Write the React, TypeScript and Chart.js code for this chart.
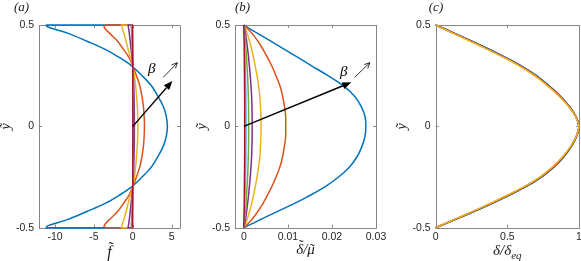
import React, { useEffect, useRef } from "react";
import { Chart, registerables } from "chart.js";
Chart.register(...registerables);

const COLORS = ["#0072BD", "#D95319", "#EDB120", "#7E2F8E", "#77AC30", "#4DBEEE", "#A2142F"];

// ---------- panel (a): f~ vs y~ ----------
const yA = [-0.5, -0.5, -0.49, -0.46, -0.42, -0.38, -0.34, -0.3, -0.25, -0.2, -0.15, -0.1, -0.05, 0, 0.05, 0.1, 0.15, 0.2, 0.25, 0.3, 0.34, 0.38, 0.42, 0.46, 0.49, 0.5, 0.5];
const fA1 = [0, -11.1, -10.9, -8.4, -5.9, -3.55, -1.75, -0.2, 1.2, 2.4, 3.2, 3.9, 4.3, 4.45, 4.3, 3.9, 3.2, 2.4, 1.2, -0.2, -1.75, -3.55, -5.9, -8.4, -10.9, -11.1, 0];
const fA2 = [0, -3.4, -3.7, -3.0, -1.95, -1.2, -0.5, -0.03, 0.47, 0.9, 1.17, 1.36, 1.46, 1.5, 1.46, 1.36, 1.17, 0.9, 0.47, -0.03, -0.5, -1.2, -1.95, -3.0, -3.7, -3.4, 0];
const fA3 = [0, -1.45, -1.38, -1.15, -0.86, -0.6, -0.33, -0.03, 0.2, 0.36, 0.48, 0.57, 0.63, 0.65, 0.63, 0.57, 0.48, 0.36, 0.2, -0.03, -0.33, -0.6, -0.86, -1.15, -1.38, -1.45, 0];
const fA4 = [0, -0.6, -0.56, -0.45, -0.33, -0.22, -0.11, -0.01, 0.07, 0.12, 0.16, 0.19, 0.2, 0.21, 0.2, 0.19, 0.16, 0.12, 0.07, -0.01, -0.11, -0.22, -0.33, -0.45, -0.56, -0.6, 0];
const fA5 = [0, -0.2, -0.19, -0.15, -0.11, -0.075, -0.04, 0, 0.025, 0.04, 0.055, 0.063, 0.068, 0.07, 0.068, 0.063, 0.055, 0.04, 0.025, 0, -0.04, -0.075, -0.11, -0.15, -0.19, -0.2, 0];
const fA6 = [0, -0.07, -0.066, -0.053, -0.038, -0.026, -0.013, 0, 0.008, 0.014, 0.019, 0.022, 0.024, 0.025, 0.024, 0.022, 0.019, 0.014, 0.008, 0, -0.013, -0.026, -0.038, -0.053, -0.066, -0.07, 0];
const fA7 = [0, -0.025, -0.024, -0.019, -0.014, -0.009, -0.005, 0, 0.003, 0.005, 0.007, 0.008, 0.0085, 0.009, 0.0085, 0.008, 0.007, 0.005, 0.003, 0, -0.005, -0.009, -0.014, -0.019, -0.024, -0.025, 0];
const xTicksA = [-10, -5, 0, 5];
const xTickLabelsA = ["-10", "-5", "0", "5"];

// ---------- panel (b): delta~/mu~ vs y~ ----------
const yB = [-0.5, -0.48, -0.45, -0.4, -0.35, -0.3, -0.25, -0.2, -0.15, -0.1, -0.05, 0, 0.05, 0.1, 0.15, 0.2, 0.25, 0.3, 0.35, 0.4, 0.45, 0.48, 0.5];
const dB1 = [0, 0.0019, 0.0047, 0.0096, 0.0142, 0.0183, 0.0215, 0.024, 0.0257, 0.0268, 0.0275, 0.0277, 0.0275, 0.0266, 0.0251, 0.0226, 0.0191, 0.0153, 0.0115, 0.0077, 0.0038, 0.0015, 0];
const dB2 = [0, 0.00095, 0.0022, 0.0038, 0.0051, 0.0063, 0.0073, 0.0082, 0.0088, 0.0092, 0.0095, 0.0095, 0.0095, 0.0092, 0.0088, 0.0082, 0.0073, 0.0063, 0.0051, 0.0038, 0.0022, 0.00095, 0];
const dB3 = [0, 0.0004, 0.0009, 0.00156, 0.0021, 0.00257, 0.003, 0.00335, 0.00363, 0.00378, 0.00388, 0.0039, 0.00388, 0.00378, 0.00363, 0.00335, 0.003, 0.00257, 0.0021, 0.00156, 0.0009, 0.0004, 0];
const dB4 = [0, 0.00019, 0.00044, 0.00076, 0.00103, 0.00125, 0.00146, 0.00163, 0.00177, 0.00184, 0.00189, 0.0019, 0.00189, 0.00184, 0.00177, 0.00163, 0.00146, 0.00125, 0.00103, 0.00076, 0.00044, 0.00019, 0];
const dB5 = [0, 0.00011, 0.00025, 0.00044, 0.00059, 0.00073, 0.00085, 0.00095, 0.00102, 0.00107, 0.00109, 0.0011, 0.00109, 0.00107, 0.00102, 0.00095, 0.00085, 0.00073, 0.00059, 0.00044, 0.00025, 0.00011, 0];
const dB6 = [0, 0.00005, 0.00012, 0.0002, 0.00027, 0.00033, 0.00039, 0.00043, 0.00047, 0.00049, 0.0005, 0.0005, 0.0005, 0.00049, 0.00047, 0.00043, 0.00039, 0.00033, 0.00027, 0.0002, 0.00012, 0.00005, 0];
const dB7 = [0, 0.00002, 0.00005, 0.00008, 0.00011, 0.00013, 0.00015, 0.00017, 0.00019, 0.0002, 0.0002, 0.0002, 0.0002, 0.0002, 0.00019, 0.00017, 0.00015, 0.00013, 0.00011, 0.00008, 0.00005, 0.00002, 0];
const xTicksB = [0, 0.01, 0.02, 0.03];
const xTickLabelsB = ["0", "0.01", "0.02", "0.03"];

// ---------- panel (c): delta/delta_eq vs y~ ----------
const yC = [-0.5, -0.45, -0.4, -0.35, -0.3, -0.25, -0.2, -0.15, -0.1, -0.05, 0, 0.05, 0.1, 0.15, 0.2, 0.25, 0.3, 0.35, 0.4, 0.45, 0.5];
const dC1 = [0, 0.168, 0.332, 0.482, 0.622, 0.737, 0.826, 0.894, 0.946, 0.982, 1.0, 0.977, 0.93, 0.868, 0.791, 0.702, 0.593, 0.458, 0.312, 0.158, 0];
const dC2 = [0, 0.164, 0.326, 0.476, 0.616, 0.731, 0.821, 0.89, 0.943, 0.981, 1.0, 0.976, 0.928, 0.864, 0.786, 0.696, 0.587, 0.452, 0.306, 0.154, 0];
const dC3 = [0, 0.16, 0.32, 0.47, 0.61, 0.725, 0.815, 0.885, 0.94, 0.98, 1.0, 0.975, 0.925, 0.86, 0.78, 0.69, 0.58, 0.445, 0.3, 0.15, 0];
const dC4 = [0, 0.167, 0.331, 0.481, 0.621, 0.736, 0.825, 0.893, 0.945, 0.982, 1.0, 0.977, 0.93, 0.867, 0.79, 0.701, 0.592, 0.457, 0.311, 0.157, 0];
const dC5 = [0, 0.167, 0.331, 0.481, 0.621, 0.736, 0.825, 0.893, 0.945, 0.982, 1.0, 0.977, 0.93, 0.867, 0.79, 0.701, 0.592, 0.457, 0.311, 0.157, 0];
const dC6 = [0, 0.166, 0.33, 0.48, 0.62, 0.735, 0.824, 0.893, 0.945, 0.982, 1.0, 0.977, 0.929, 0.867, 0.789, 0.7, 0.591, 0.456, 0.31, 0.157, 0];
const dC7 = [0, 0.166, 0.33, 0.48, 0.62, 0.735, 0.824, 0.893, 0.945, 0.982, 1.0, 0.977, 0.929, 0.867, 0.789, 0.7, 0.591, 0.456, 0.31, 0.157, 0];
const xTicksC = [0, 0.5, 1];
const xTickLabelsC = ["0", "0.5", "1"];

const yTicks = [-0.5, 0, 0.5];
const yTickLabels = ["-0.5", "0", "0.5"];

// annotation anchors in data units
const arrowA = [0, 0, 5.09, 0.224];
const smallArrowA = [3.93, 0.242, 5.73, 0.314];
const betaA = [2.44, 0.283];
const arrowB = [0, 0, 0.0244, 0.217];
const smallArrowB = [0.02516, 0.242, 0.0286, 0.314];
const betaB = [0.02266, 0.27];

const SERIF = '"Liberation Serif", "DejaVu Serif", serif';
const SANS = '"Liberation Sans", Arial, sans-serif';

type Seg = { t: string; size: number; dy: number; tilde?: boolean; tall?: boolean };

function drawSegs(ctx: CanvasRenderingContext2D, segs: Seg[], cx: number, base: number) {
  let total = 0;
  for (const s of segs) {
    ctx.font = `italic ${s.size}px ${SERIF}`;
    total += ctx.measureText(s.t).width;
  }
  let x = cx - total / 2;
  ctx.textAlign = "left";
  ctx.textBaseline = "alphabetic";
  for (const s of segs) {
    ctx.font = `italic ${s.size}px ${SERIF}`;
    const w = ctx.measureText(s.t).width;
    ctx.fillText(s.t, x, base + s.dy);
    if (s.tilde) {
      ctx.font = `${s.size}px ${SERIF}`;
      const tw = ctx.measureText("˜").width;
      const tx = x + w / 2 - tw / 2 + s.size * 0.1;
      const ty = base + s.dy - (s.tall ? s.size * 0.27 : s.size * 0.03);
      ctx.fillText("˜", tx, ty);
    }
    x += w;
  }
}

function drawArrow(ctx: CanvasRenderingContext2D, x0: number, y0: number, x1: number, y1: number, filled: boolean) {
  const ang = Math.atan2(y1 - y0, x1 - x0);
  ctx.save();
  ctx.strokeStyle = "#000";
  ctx.fillStyle = "#000";
  if (filled) {
    const hl = 9, hw = 3.6;
    const bx = x1 - hl * Math.cos(ang), by = y1 - hl * Math.sin(ang);
    ctx.lineWidth = 1.4;
    ctx.beginPath();
    ctx.moveTo(x0, y0);
    ctx.lineTo(bx, by);
    ctx.stroke();
    ctx.beginPath();
    ctx.moveTo(x1, y1);
    ctx.lineTo(bx + hw * Math.sin(ang), by - hw * Math.cos(ang));
    ctx.lineTo(bx - hw * Math.sin(ang), by + hw * Math.cos(ang));
    ctx.closePath();
    ctx.fill();
  } else {
    ctx.lineWidth = 0.8;
    ctx.beginPath();
    ctx.moveTo(x0, y0);
    ctx.lineTo(x1, y1);
    const hl = 6, a = 0.45;
    ctx.moveTo(x1 - hl * Math.cos(ang - a), y1 - hl * Math.sin(ang - a));
    ctx.lineTo(x1, y1);
    ctx.lineTo(x1 - hl * Math.cos(ang + a), y1 - hl * Math.sin(ang + a));
    ctx.stroke();
  }
  ctx.restore();
}

type PanelCfg = {
  key: string;
  left: number;
  width: number;
  padRight: number;
  yAxisWidth: number;
  xMin: number;
  xMax: number;
  xTicks: number[];
  xTickLabels: string[];
  ys: number[];
  series: number[][];
  orders: number[];
  tension: number;
  label: string;
  labelX: number;
  title: Seg[];
  titleBase: number;
  arrow?: number[];
  smallArrow?: number[];
  beta?: number[];
};

function makePlugin(cfg: PanelCfg) {
  return {
    id: "decor" + cfg.key,
    beforeDatasetsDraw(chart: any) {
      const ctx: CanvasRenderingContext2D = chart.ctx;
      const { left, right, top, bottom } = chart.chartArea;
      const xs = chart.scales.x, ysc = chart.scales.y;
      ctx.save();
      ctx.strokeStyle = "#858585";
      ctx.lineWidth = 1;
      ctx.beginPath();
      ctx.rect(Math.round(left) + 0.5, Math.round(top) + 0.5, Math.round(right) - Math.round(left), Math.round(bottom) - Math.round(top));
      ctx.stroke();
      const tl = 3;
      ctx.beginPath();
      for (const v of cfg.xTicks) {
        const px = Math.round(xs.getPixelForValue(v)) + 0.5;
        ctx.moveTo(px, bottom);
        ctx.lineTo(px, bottom - tl);
        ctx.moveTo(px, top);
        ctx.lineTo(px, top + tl);
      }
      for (const v of yTicks) {
        const py = Math.round(ysc.getPixelForValue(v)) + 0.5;
        ctx.moveTo(left, py);
        ctx.lineTo(left + tl, py);
        ctx.moveTo(right, py);
        ctx.lineTo(right - tl, py);
      }
      ctx.stroke();
      ctx.restore();
    },
    afterDatasetsDraw(chart: any) {
      const ctx: CanvasRenderingContext2D = chart.ctx;
      const { left, right, top, bottom } = chart.chartArea;
      const xs = chart.scales.x, ysc = chart.scales.y;
      ctx.save();
      if (cfg.arrow) {
        const a = cfg.arrow;
        drawArrow(ctx, xs.getPixelForValue(a[0]), ysc.getPixelForValue(a[1]), xs.getPixelForValue(a[2]), ysc.getPixelForValue(a[3]), true);
      }
      if (cfg.smallArrow) {
        const a = cfg.smallArrow;
        drawArrow(ctx, xs.getPixelForValue(a[0]), ysc.getPixelForValue(a[1]), xs.getPixelForValue(a[2]), ysc.getPixelForValue(a[3]), false);
      }
      ctx.fillStyle = "#000";
      if (cfg.beta) {
        ctx.font = `italic 15px ${SERIF}`;
        ctx.textAlign = "center";
        ctx.textBaseline = "middle";
        ctx.fillText("β", xs.getPixelForValue(cfg.beta[0]), ysc.getPixelForValue(cfg.beta[1]));
      }
      ctx.fillStyle = "#1a1a1a";
      ctx.font = `italic 13px ${SERIF}`;
      ctx.textAlign = "center";
      ctx.textBaseline = "middle";
      ctx.fillText(cfg.label, cfg.labelX, 8);
      drawSegs(ctx, cfg.title, (left + right) / 2, cfg.titleBase);
      ctx.save();
      ctx.translate(left - 33, (top + bottom) / 2);
      ctx.rotate(-Math.PI / 2);
      ctx.font = `italic 14px ${SERIF}`;
      ctx.textAlign = "center";
      ctx.textBaseline = "middle";
      ctx.fillText("ỹ", 0, 0);
      ctx.restore();
      ctx.restore();
    },
  };
}

function Panel({ cfg }: { cfg: PanelCfg }) {
  const ref = useRef<HTMLCanvasElement>(null);
  useEffect(() => {
    const chart = new Chart(ref.current as HTMLCanvasElement, {
      type: "scatter",
      data: {
        datasets: cfg.series.map((s, i) => ({
          data: s.map((v, k) => ({ x: v, y: cfg.ys[k] })),
          showLine: true,
          borderColor: COLORS[i],
          backgroundColor: COLORS[i],
          borderWidth: 1.5,
          pointRadius: 0,
          pointHoverRadius: 0,
          tension: cfg.tension,
          clip: false as any,
          order: cfg.orders[i],
        })),
      },
      options: {
        animation: false,
        responsive: false,
        events: [],
        layout: { padding: { left: 0, right: cfg.padRight, top: 25, bottom: 0 } },
        plugins: { legend: { display: false }, tooltip: { enabled: false } },
        scales: {
          x: {
            type: "linear",
            min: cfg.xMin,
            max: cfg.xMax,
            afterBuildTicks: (s: any) => {
              s.ticks = cfg.xTicks.map((v) => ({ value: v }));
            },
            afterFit: (s: any) => {
              s.height = 33.3;
            },
            ticks: {
              autoSkip: false,
              maxRotation: 0,
              padding: 3,
              color: "#262626",
              font: { family: SANS, size: 10.5 },
              callback: (_v: any, i: number) => cfg.xTickLabels[i],
            },
            grid: { display: false, drawTicks: false },
            border: { display: false },
          },
          y: {
            type: "linear",
            min: -0.5,
            max: 0.5,
            afterBuildTicks: (s: any) => {
              s.ticks = yTicks.map((v) => ({ value: v }));
            },
            afterFit: (s: any) => {
              s.width = cfg.yAxisWidth;
            },
            ticks: {
              autoSkip: false,
              padding: 5,
              color: "#262626",
              font: { family: SANS, size: 10.5 },
              callback: (_v: any, i: number) => yTickLabels[i],
            },
            grid: { display: false, drawTicks: false },
            border: { display: false },
          },
        },
      },
      plugins: [makePlugin(cfg)],
    } as any);
    return () => chart.destroy();
  }, []);
  return (
    <canvas
      ref={ref}
      width={cfg.width}
      height={261}
      style={{ position: "absolute", left: cfg.left, top: 0, width: cfg.width, height: 261 }}
    />
  );
}

const panels: PanelCfg[] = [
  {
    key: "a", left: 0, width: 195, padRight: 15, yAxisWidth: 39,
    xMin: -12.06, xMax: 6.07, xTicks: xTicksA, xTickLabels: xTickLabelsA,
    ys: yA, series: [fA1, fA2, fA3, fA4, fA5, fA6, fA7], orders: [7, 6, 5, 4, 3, 2, 1], tension: 0.35,
    label: "(a)", labelX: 21.5,
    title: [{ t: "f", size: 16, dy: 0, tilde: true, tall: true }], titleBase: 257,
    arrow: arrowA, smallArrow: smallArrowA, beta: betaA,
  },
  {
    key: "b", left: 195, width: 195, padRight: 14, yAxisWidth: 40,
    xMin: -0.002, xMax: 0.03, xTicks: xTicksB, xTickLabels: xTickLabelsB,
    ys: yB, series: [dB1, dB2, dB3, dB4, dB5, dB6, dB7], orders: [7, 6, 5, 4, 3, 2, 1], tension: 0.4,
    label: "(b)", labelX: 47.5,
    title: [
      { t: "δ", size: 15, dy: 0, tilde: true, tall: true },
      { t: "/", size: 15, dy: 0 },
      { t: "μ", size: 15, dy: 0, tilde: true },
    ], titleBase: 254,
    arrow: arrowB, smallArrow: smallArrowB, beta: betaB,
  },
  {
    key: "c", left: 390, width: 200, padRight: 11, yAxisWidth: 45.7,
    xMin: 0, xMax: 1, xTicks: xTicksC, xTickLabels: xTickLabelsC,
    ys: yC, series: [dC1, dC2, dC3, dC4, dC5, dC6, dC7], orders: [3, 2, 1, 7, 6, 5, 4], tension: 0.4,
    label: "(c)", labelX: 46,
    title: [{ t: "δ/δ", size: 15, dy: 0 }, { t: "eq", size: 11, dy: 3.5 }], titleBase: 255,
  },
];

export default function App() {
  return (
    <div style={{ position: "fixed", left: 0, top: 0, width: 581, height: 261, overflow: "hidden", background: "#fff" }}>
      {panels.map((p) => (
        <Panel key={p.key} cfg={p} />
      ))}
    </div>
  );
}
